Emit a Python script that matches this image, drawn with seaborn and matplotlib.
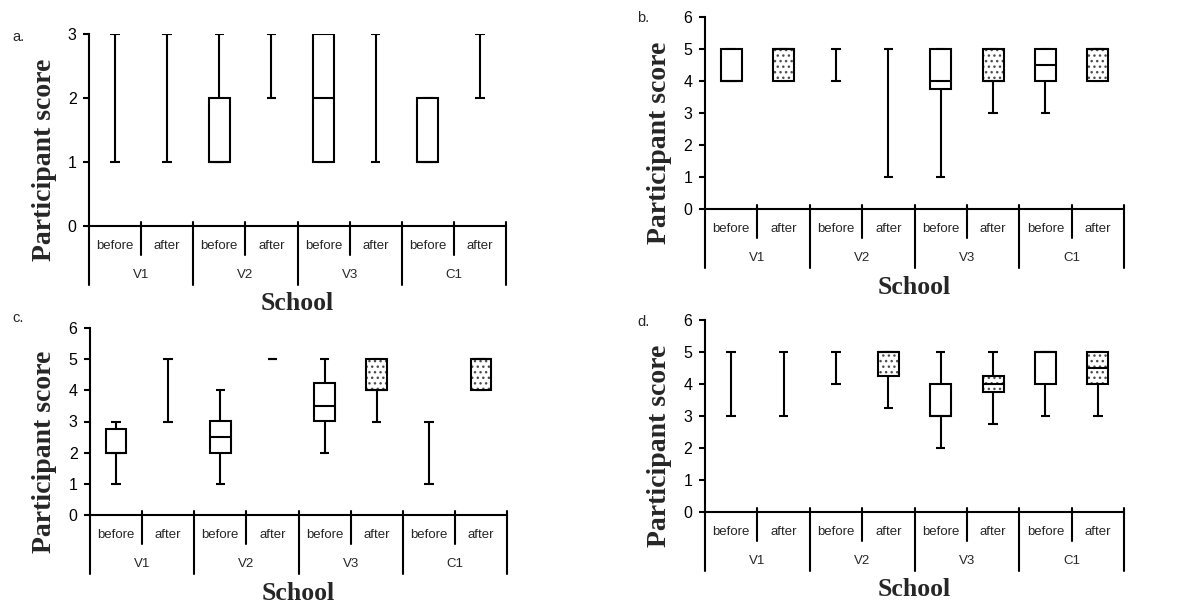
import numpy as np
import pandas as pd
import matplotlib.pyplot as plt
import matplotlib.transforms as mtransforms
import seaborn as sns

# categories
schools = ["V1", "V2", "V3", "C1"]
phases = ["before", "after"]

# box statistics per category (V1 before, V1 after, V2 before, ... C1 after)
a_min = [1, 1, 1, 2, 1, 1, 1, 2]
a_q1 = [2, 2, 1, 3, 1, 2, 1, 3]
a_med = [2, 2, 1, 3, 2, 2, 1, 3]
a_q3 = [2, 2, 2, 3, 3, 2, 2, 3]
a_max = [3, 3, 3, 3, 3, 3, 2, 3]

b_min = [4, 4, 4, 1, 1, 3, 3, 4]
b_q1 = [4, 4, 5, 5, 3.75, 4, 4, 4]
b_med = [4, 5, 5, 5, 4, 4, 4.5, 5]
b_q3 = [5, 5, 5, 5, 5, 5, 5, 5]
b_max = [5, 5, 5, 5, 5, 5, 5, 5]

c_min = [1, 3, 1, 5, 2, 3, 1, 4]
c_q1 = [2, 4, 2, 5, 3, 4, 2, 4]
c_med = [2, 4, 2.5, 5, 3.5, 4, 2, 5]
c_q3 = [2.75, 4, 3, 5, 4.25, 5, 2, 5]
c_max = [3, 5, 4, 5, 5, 5, 3, 5]

d_min = [3, 3, 4, 3.25, 2, 2.75, 3, 3]
d_q1 = [4, 4, 5, 4.25, 3, 3.75, 4, 4]
d_med = [4, 4, 5, 5, 3, 4, 5, 4.5]
d_q3 = [4, 4, 5, 5, 4, 4.25, 5, 5]
d_max = [5, 5, 5, 5, 5, 5, 5, 5]

sns.set_theme(style="white")
plt.rcParams['font.family'] = ['Liberation Sans', 'DejaVu Sans']

SERIF = ['Liberation Serif', 'DejaVu Serif']
LW = 1.5


def make_frame(mins, q1, med, q3, maxs):
    df = pd.DataFrame({
        "school": np.repeat(schools, 2),
        "phase": phases * 4,
        "min": mins, "q1": q1, "med": med, "q3": q3, "max": maxs,
    })
    return df


panels = [
    ("a.", make_frame(a_min, a_q1, a_med, a_q3, a_max), 3, [89, 34, 506, 226], (12, 37)),
    ("b.", make_frame(b_min, b_q1, b_med, b_q3, b_max), 6, [705, 17, 1124, 209], (637, 18)),
    ("c.", make_frame(c_min, c_q1, c_med, c_q3, c_max), 6, [90, 328, 507, 515], (12, 318)),
    ("d.", make_frame(d_min, d_q1, d_med, d_q3, d_max), 6, [705, 320, 1124, 512], (637, 322)),
]

W, H = 1199, 604
fig = plt.figure(figsize=(W / 100, H / 100), dpi=100)

for letter, df, ymax, (x0, y0, x1, y1), (lx, ly) in panels:
    ax = fig.add_axes([x0 / W, 1 - y1 / H, (x1 - x0) / W, (y1 - y0) / H])
    axh = y1 - y0
    axw = x1 - x0
    x = np.arange(len(df))

    # whiskers and caps
    ax.vlines(x, df["min"], df["max"], color="black", lw=LW, zorder=2)
    ax.hlines(df["min"], x - 0.09, x + 0.09, color="black", lw=LW, zorder=2)
    ax.hlines(df["max"], x - 0.09, x + 0.09, color="black", lw=LW, zorder=2)

    # boxes
    boxed = df[df["q3"] > df["q1"]]
    bx = boxed.index.to_numpy()
    ax.bar(bx, boxed["q3"] - boxed["q1"], bottom=boxed["q1"], width=0.4,
           color="white", edgecolor="none", zorder=3)
    after = boxed[boxed["phase"] == "after"]
    if len(after):
        ax.bar(after.index.to_numpy(), after["q3"] - after["q1"], bottom=after["q1"],
               width=0.4, color="white", edgecolor="0.3", linewidth=0,
               hatch="...", zorder=3.5)
    ax.bar(bx, boxed["q3"] - boxed["q1"], bottom=boxed["q1"], width=0.4,
           fill=False, edgecolor="black", linewidth=LW, zorder=4)
    ax.hlines(boxed["med"], bx - 0.2, bx + 0.2, color="black", lw=LW, zorder=5)

    ax.set_xlim(-0.5, 7.5)
    ax.set_ylim(0, ymax)
    ax.set_yticks(range(0, ymax + 1))
    ax.set_xticks([])
    ax.tick_params(axis="y", direction="out", length=4, width=LW, labelsize=11.5,
                   left=True, pad=5, colors="black")
    sns.despine(ax=ax, top=True, right=True)
    ax.spines["left"].set_linewidth(LW)
    ax.spines["bottom"].set_linewidth(LW)
    ax.spines["left"].set_color("black")
    ax.spines["bottom"].set_color("black")

    # two-level category axis
    trans = mtransforms.blended_transform_factory(ax.transData, ax.transAxes)
    for i in range(len(df)):
        ax.text(i, -20 / axh, df["phase"][i], transform=trans, ha="center",
                va="center", fontsize=9.5)
    for k, s in enumerate(schools):
        ax.text(2 * k + 0.5, -49 / axh, s, transform=trans, ha="center",
                va="center", fontsize=9.5)
    for xs in [0.5, 2.5, 4.5, 6.5]:
        ax.plot([xs, xs], [4 / axh, -29 / axh], transform=trans, color="black",
                lw=LW, clip_on=False)
    for xs in [-0.5, 1.5, 3.5, 5.5, 7.5]:
        top = 0 if xs == -0.5 else 4 / axh
        ax.plot([xs, xs], [top, -59 / axh], transform=trans, color="black",
                lw=LW, clip_on=False)

    ax.text(-45 / axw, 0.5 - 30 / axh, "Participant score", transform=ax.transAxes,
            rotation=90, ha="center", va="center", fontsize=20,
            fontweight="bold", family=SERIF)
    ax.text(0.5, -78 / axh, "School", transform=ax.transAxes, ha="center",
            va="center", fontsize=18.5, fontweight="bold", family=SERIF)
    fig.text(lx / W, 1 - ly / H, letter, ha="left", va="center", fontsize=10.5)

fig.savefig("out.png", dpi=100, facecolor="white")
